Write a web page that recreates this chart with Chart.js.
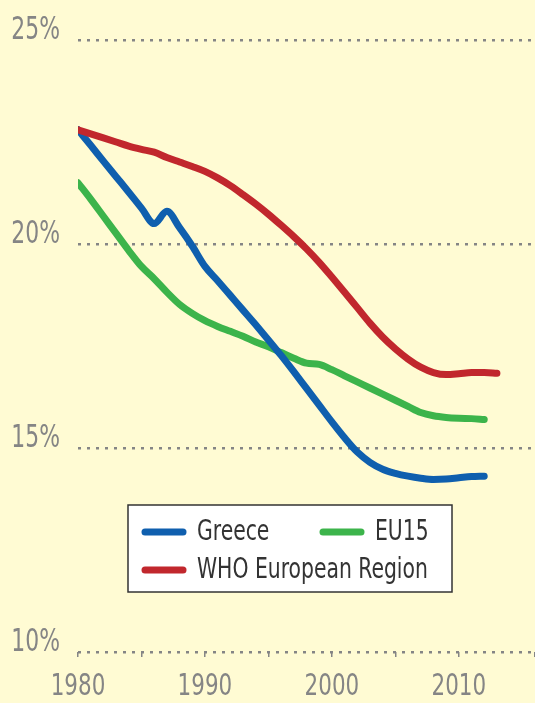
<!DOCTYPE html>
<html>
<head>
<meta charset="utf-8">
<script src="https://cdn.jsdelivr.net/npm/chart.js@4"></script>
<style>
    html, body { margin: 0; padding: 0; background: #fffbd3; }
    #wrap { width: 535px; height: 703px; }
</style>
</head>
<body>
<div id="wrap"><canvas id="smokeChart" width="535" height="703"></canvas></div>
<script>
// Years and values (% of population)
const years = [1980, 1981, 1982, 1983, 1984, 1985, 1986, 1987, 1988, 1989,
    1990, 1991, 1992, 1993, 1994, 1995, 1996, 1997, 1998, 1999,
    2000, 2001, 2002, 2003, 2004, 2005, 2006, 2007, 2008, 2009,
    2010, 2011, 2012, 2013];
const greece = [22.8, 22.42, 22.03, 21.65, 21.27, 20.88, 20.5, 20.8, 20.4, 19.95,
    19.45, 19.1, 18.74, 18.38, 18.02, 17.65, 17.27, 16.87, 16.46, 16.05,
    15.64, 15.25, 14.9, 14.65, 14.48, 14.38, 14.31, 14.26, 14.23, 14.24,
    14.27, 14.3, 14.31];
const eu15 = [21.5, 21.1, 20.68, 20.26, 19.84, 19.45, 19.15, 18.82, 18.52, 18.3,
    18.12, 17.98, 17.86, 17.74, 17.6, 17.48, 17.34, 17.2, 17.08, 17.05,
    16.92, 16.77, 16.62, 16.47, 16.32, 16.17, 16.02, 15.87, 15.79, 15.75,
    15.73, 15.72, 15.7];
const whoEurope = [22.8, 22.7, 22.6, 22.5, 22.4, 22.32, 22.25, 22.12, 22.01, 21.9,
    21.78, 21.62, 21.43, 21.21, 20.98, 20.73, 20.46, 20.18, 19.88, 19.55,
    19.19, 18.82, 18.44, 18.06, 17.72, 17.43, 17.18, 16.98, 16.85, 16.8,
    16.82, 16.85, 16.85, 16.83];
const yTicks = [10, 15, 20, 25];
const xLabels = [1980, 1990, 2000, 2010];

const FONT = '"DejaVu Sans Condensed", "DejaVu Sans", sans-serif';
const GRAY = '#858585';

// pairs years with a series
function toPoints(values) {
    return values.map((v, i) => ({ x: years[i], y: v }));
}

// draws text squeezed sideways, the original uses a narrow typeface
function narrowText(ctx, text, x, y, size, squeeze, align, baseline, color) {
    ctx.save();
    ctx.translate(x, y);
    ctx.scale(squeeze, 1);
    ctx.font = size + 'px ' + FONT;
    ctx.textAlign = align;
    ctx.textBaseline = baseline;
    ctx.fillStyle = color;
    ctx.fillText(text, 0, 0);
    ctx.restore();
}

// Tick labels of both axes, placed from the scales
const narrowTicks = {
    id: 'narrowTicks',
    afterDraw(chart) {
        const ctx = chart.ctx;
        const xs = chart.scales.x;
        const ys = chart.scales.y;
        xs.ticks.forEach(t => {
            if (!t.label) return;
            narrowText(ctx, t.label, xs.getPixelForValue(t.value), xs.top + 19, 31, 0.77, 'center', 'top', GRAY);
        });
        ys.ticks.forEach(t => {
            narrowText(ctx, t.label, ys.right - 18, ys.getPixelForValue(t.value) - 9, 32, 0.76, 'right', 'middle', GRAY);
        });
    }
};

// Legend drawn as a white box inside the plot
const boxLegend = {
    id: 'boxLegend',
    afterDraw(chart) {
        const ctx = chart.ctx;
        const items = [
            { label: 'Greece', x: 145, y: 532 },
            { label: 'EU15', x: 323, y: 532 },
            { label: 'WHO European Region', x: 145, y: 570 }
        ];
        ctx.save();
        ctx.fillStyle = '#ffffff';
        ctx.fillRect(128, 505, 324, 87);
        ctx.strokeStyle = '#333333';
        ctx.lineWidth = 1.5;
        ctx.strokeRect(128, 505, 324, 87);
        items.forEach(item => {
            const ds = chart.data.datasets.find(d => d.label === item.label);
            ctx.strokeStyle = ds.borderColor;
            ctx.lineWidth = 7;
            ctx.lineCap = 'round';
            ctx.beginPath();
            ctx.moveTo(item.x, item.y);
            ctx.lineTo(item.x + 38, item.y);
            ctx.stroke();
            narrowText(ctx, ds.label, item.x + 52, item.y, 29, 0.78, 'left', 'middle', '#333333');
        });
        ctx.restore();
    }
};

const ctx = document.getElementById('smokeChart').getContext('2d');
new Chart(ctx, {
    type: 'line',
    data: {
        datasets: [{
            label: 'WHO European Region',
            data: toPoints(whoEurope),
            borderColor: '#c1272d'
        }, {
            label: 'Greece',
            data: toPoints(greece),
            borderColor: '#0f5fae'
        }, {
            label: 'EU15',
            data: toPoints(eu15),
            borderColor: '#3cb44b'
        }]
    },
    options: {
        responsive: false,
        animation: false,
        layout: { padding: { top: 40 } },
        elements: {
            line: {
                borderWidth: 7,
                cubicInterpolationMode: 'monotone',
                borderCapStyle: 'round',
                borderJoinStyle: 'round',
                fill: false
            },
            point: { radius: 0 }
        },
        plugins: {
            legend: { display: false },
            tooltip: { enabled: false }
        },
        scales: {
            x: {
                type: 'linear',
                min: 1980,
                max: 2016,
                afterFit: scale => {
                    scale.height = 51;
                    scale.paddingLeft = 0;
                    scale.paddingRight = 0;
                },
                border: { display: false },
                grid: { drawOnChartArea: false, drawTicks: true, tickLength: 5, color: GRAY, lineWidth: 1.5 },
                ticks: {
                    stepSize: 5,
                    autoSkip: false,
                    maxRotation: 0,
                    padding: 10,
                    color: 'rgba(0,0,0,0)',
                    font: { family: FONT, size: 20 },
                    callback: v => xLabels.includes(v) ? String(v) : ''
                }
            },
            y: {
                min: 10,
                max: 25,
                afterFit: scale => { scale.width = 78; },
                afterBuildTicks: scale => { scale.ticks = yTicks.map(v => ({ value: v })); },
                border: { display: false, dash: [3, 6] },
                grid: { drawTicks: false, color: GRAY, lineWidth: 2.5 },
                ticks: {
                    padding: 18,
                    color: 'rgba(0,0,0,0)',
                    font: { family: FONT, size: 20 },
                    callback: v => v + '%'
                }
            }
        }
    },
    plugins: [narrowTicks, boxLegend]
});
</script>
</body>
</html>
